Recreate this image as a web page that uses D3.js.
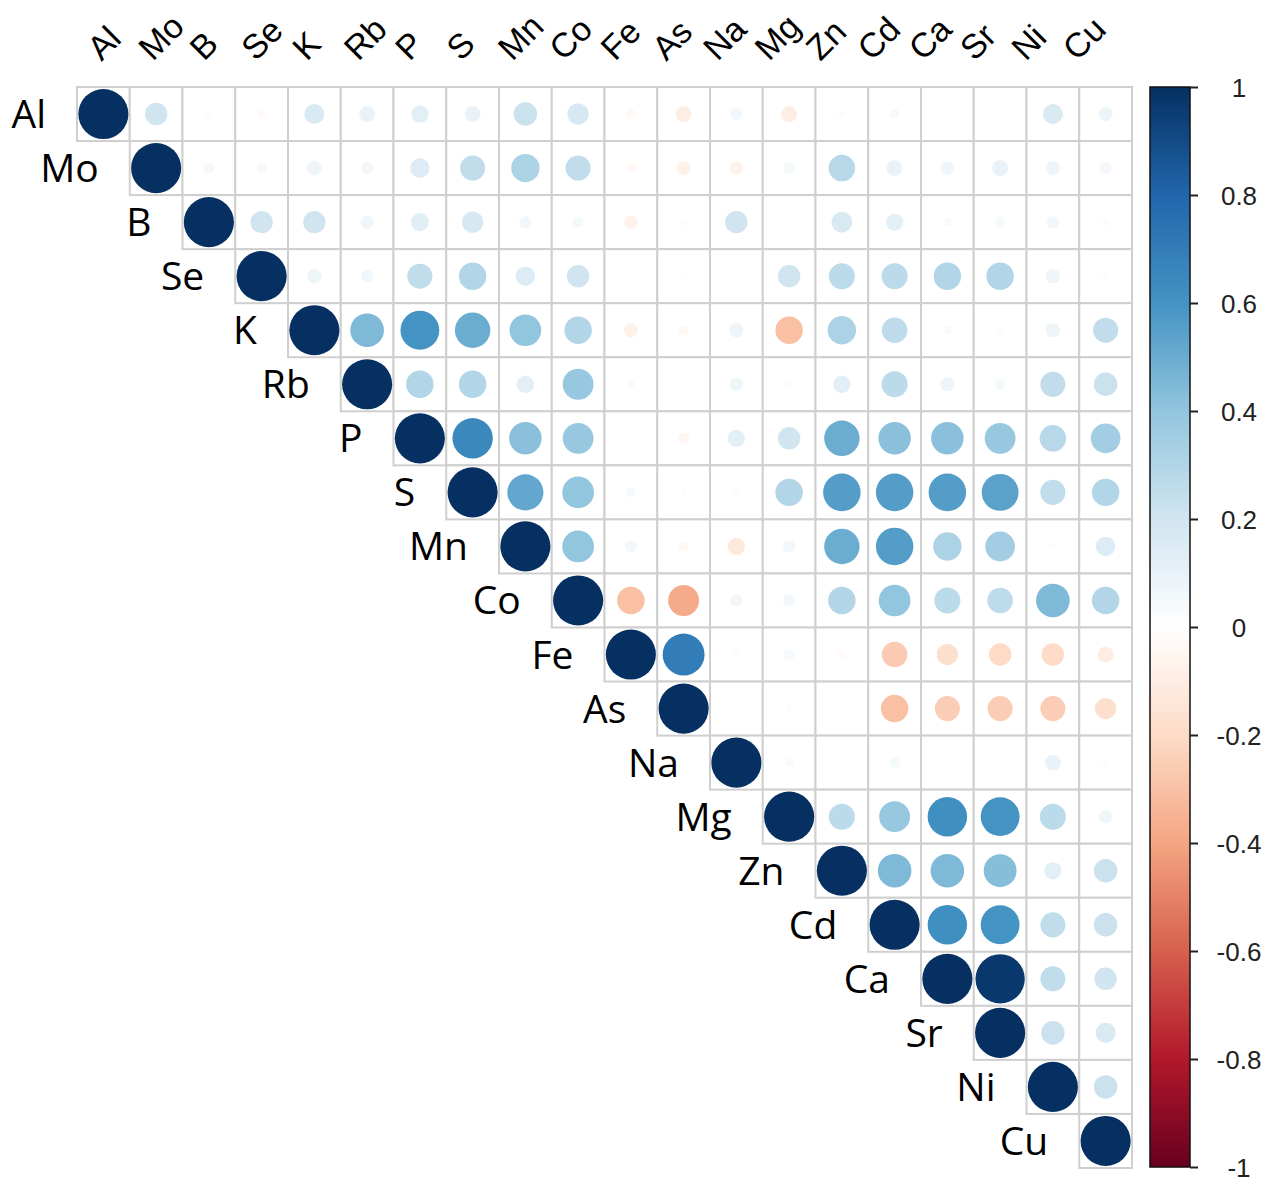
<!DOCTYPE html>
<html lang="en">
<head>
    <meta charset="utf-8">
    <title>Element correlation matrix</title>
    <script src="https://d3js.org/d3.v7.min.js"></script>
    <style>
        body {
            margin: 0;
            background: white;
        }

        .cell {
            fill: white;
            stroke: #cfcfcf;
            stroke-width: 2;
        }

        .row-label {
            font-family: "Open Sans", sans-serif;
            font-size: 39px;
            fill: black;
        }

        .col-label {
            font-family: "Liberation Sans", Arial, sans-serif;
            font-size: 34px;
            fill: black;
        }

        .legend-axis text {
            font-family: "Liberation Sans", Arial, sans-serif;
            font-size: 26px;
            fill: #222;
        }
    </style>
</head>
<body>
<div id="chart"></div>

<script>
    var elements = ["Al", "Mo", "B", "Se", "K", "Rb", "P", "S", "Mn", "Co",
                    "Fe", "As", "Na", "Mg", "Zn", "Cd", "Ca", "Sr", "Ni", "Cu"];

    // correlations of each element with the elements after it (upper triangle)
    var corAl = [0.2, 0.02, -0.03, 0.16, 0.1, 0.12, 0.1, 0.22, 0.18, -0.04, -0.1, 0.06, -0.1, 0.02, 0.04, 0, 0, 0.16, 0.08];
    var corMo = [0.05, 0.04, 0.08, 0.06, 0.15, 0.25, 0.32, 0.25, -0.04, -0.08, -0.07, 0.05, 0.28, 0.1, 0.07, 0.1, 0.08, 0.06];
    var corB  = [0.2, 0.2, 0.07, 0.13, 0.18, 0.06, 0.05, -0.07, 0.02, 0.2, 0.01, 0.17, 0.12, 0.03, 0.04, 0.06, 0.02];
    var corSe = [0.08, 0.06, 0.25, 0.3, 0.15, 0.2, 0, 0.01, 0, 0.2, 0.27, 0.27, 0.3, 0.3, 0.08, 0.02];
    var corK  = [0.45, 0.6, 0.5, 0.4, 0.3, -0.08, -0.04, 0.08, -0.3, 0.32, 0.26, 0.03, 0.02, 0.08, 0.25];
    var corRb = [0.3, 0.3, 0.12, 0.38, -0.03, 0, 0.07, 0.02, 0.12, 0.27, 0.08, 0.05, 0.25, 0.22];
    var corP  = [0.65, 0.42, 0.38, 0, -0.05, 0.12, 0.2, 0.5, 0.42, 0.42, 0.38, 0.28, 0.35];
    var corS  = [0.52, 0.4, 0.04, -0.02, 0.02, 0.3, 0.56, 0.56, 0.56, 0.54, 0.25, 0.3];
    var corMn = [0.4, 0.06, -0.04, -0.12, 0.06, 0.5, 0.56, 0.32, 0.35, 0.02, 0.15];
    var corCo = [-0.3, -0.38, 0.06, 0.06, 0.3, 0.4, 0.27, 0.26, 0.45, 0.3];
    var corFe = [0.7, 0.02, 0.05, -0.03, -0.26, -0.18, -0.2, -0.2, -0.1];
    var corAs = [0.01, 0.02, 0, -0.3, -0.25, -0.25, -0.25, -0.18];
    var corNa = [0.03, 0, 0.05, 0, 0.01, 0.1, 0.02];
    var corMg = [0.27, 0.38, 0.62, 0.6, 0.27, 0.07];
    var corZn = [0.45, 0.45, 0.43, 0.12, 0.22];
    var corCd = [0.62, 0.6, 0.25, 0.22];
    var corCa = [0.97, 0.25, 0.2];
    var corSr = [0.22, 0.16];
    var corNi = [0.22];
    var corCu = [];

    var legendTicks = [1, 0.8, 0.6, 0.4, 0.2, 0, -0.2, -0.4, -0.6, -0.8, -1];

    var upper = [corAl, corMo, corB, corSe, corK, corRb, corP, corS, corMn, corCo,
                 corFe, corAs, corNa, corMg, corZn, corCd, corCa, corSr, corNi, corCu];

    var cells = [];
    elements.forEach(function(rowName, i) {
        cells.push({row: rowName, col: rowName, i: i, j: i, value: 1});
        upper[i].forEach(function(v, k) {
            cells.push({row: rowName, col: elements[i + k + 1], i: i, j: i + k + 1, value: v});
        });
    });

    var w = 1272;
    var h = 1192;

    var svg = d3.select("#chart")
        .append("svg")
        .attr("width", w)
        .attr("height", h);

    var xScale = d3.scaleBand()
        .domain(elements)
        .range([77, 1132]);

    var yScale = d3.scaleBand()
        .domain(elements)
        .range([87, 1168]);

    // corrplot RdBu palette
    var palette = ["#67001F", "#B2182B", "#D6604D", "#F4A582", "#FDDBC7", "#FFFFFF",
                   "#D1E5F0", "#92C5DE", "#4393C3", "#2166AC", "#053061"];
    var color = d3.scaleLinear()
        .domain(d3.range(11).map(function(k) { return -1 + k * 0.2; }))
        .range(palette);

    var maxR = Math.min(xScale.bandwidth(), yScale.bandwidth()) * 0.475;
    var radius = d3.scaleSqrt().domain([0, 1]).range([0, maxR]);

    var grid = svg.append("g");

    grid.selectAll("rect.cell")
        .data(cells)
        .enter()
        .append("rect")
        .attr("class", "cell")
        .attr("x", function(d) { return xScale(d.col); })
        .attr("y", function(d) { return yScale(d.row); })
        .attr("width", xScale.bandwidth())
        .attr("height", yScale.bandwidth());

    grid.selectAll("circle")
        .data(cells.filter(function(d) { return d.value !== 0; }))
        .enter()
        .append("circle")
        .attr("cx", function(d) { return xScale(d.col) + xScale.bandwidth() / 2; })
        .attr("cy", function(d) { return yScale(d.row) + yScale.bandwidth() / 2; })
        .attr("r", function(d) { return radius(Math.abs(d.value)); })
        .attr("fill", function(d) { return color(d.value); });

    // row labels, to the left of the diagonal
    svg.selectAll("text.row-label")
        .data(elements)
        .enter()
        .append("text")
        .attr("class", "row-label")
        .attr("text-anchor", "end")
        .attr("x", function(d) { return xScale(d) - 31; })
        .attr("y", function(d) { return yScale(d) + yScale.bandwidth() / 2 + 14; })
        .text(function(d) { return d; });

    // column labels on top, rotated
    svg.selectAll("text.col-label")
        .data(elements)
        .enter()
        .append("text")
        .attr("class", "col-label")
        .attr("transform", function(d, i) {
            var x = xScale(d) + xScale.bandwidth() / 2 - 2 - i * 1.4;
            return "translate(" + x + ",62) rotate(-45)";
        })
        .text(function(d) { return d; });

    // colour legend
    var barX = 1150, barW = 40;
    var legendScale = d3.scaleLinear()
        .domain([-1, 1])
        .range([1167, 87]);

    var defs = svg.append("defs");
    var grad = defs.append("linearGradient")
        .attr("id", "corGrad")
        .attr("x1", 0).attr("y1", 1)
        .attr("x2", 0).attr("y2", 0);
    palette.forEach(function(c, k) {
        grad.append("stop")
            .attr("offset", (k / 10 * 100) + "%")
            .attr("stop-color", c);
    });

    svg.append("rect")
        .attr("x", barX)
        .attr("y", legendScale(1))
        .attr("width", barW)
        .attr("height", legendScale(-1) - legendScale(1))
        .attr("fill", "url(#corGrad)")
        .attr("stroke", "#111")
        .attr("stroke-width", 1.5);

    var legendAxis = svg.append("g")
        .attr("class", "legend-axis")
        .attr("transform", "translate(" + (barX + barW) + ",0)")
        .call(d3.axisRight(legendScale)
            .tickValues(legendTicks)
            .tickSize(8)
            .tickFormat(function(d) { return String(d); }));

    legendAxis.select(".domain").remove();
    legendAxis.selectAll(".tick line")
        .attr("stroke", "#222")
        .attr("stroke-width", 2);
    legendAxis.selectAll(".tick text")
        .attr("x", 49)
        .attr("text-anchor", "middle")
        .attr("dy", "0.35em");
</script>
</body>
</html>
